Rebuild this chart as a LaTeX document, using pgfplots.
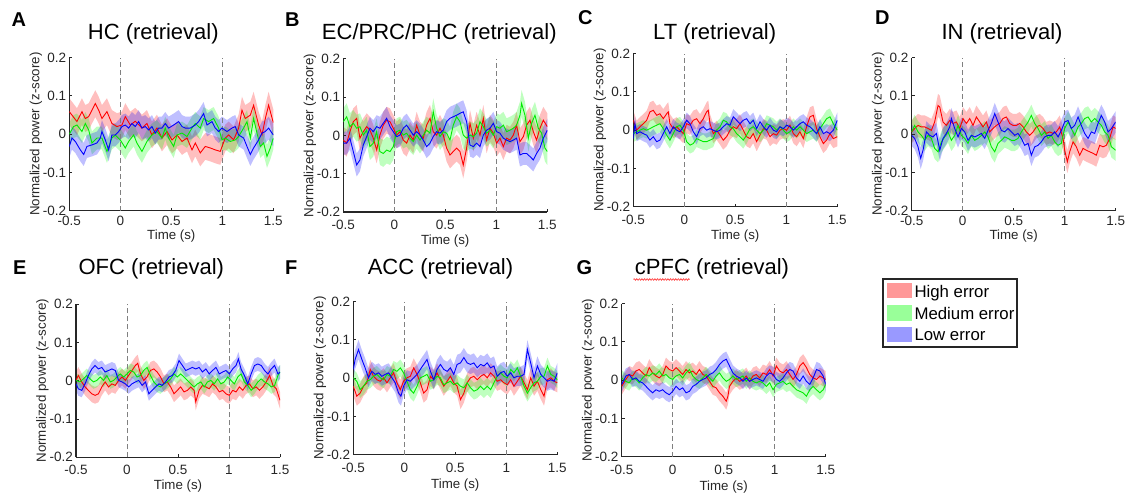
\documentclass[border=0pt]{standalone}
\usepackage{pgfplots}
\pgfplotsset{compat=1.18}
\usepackage{pgfplotstable}
\usetikzlibrary{decorations.pathmorphing}
\usepackage{fontspec}
\setmainfont{Liberation Sans}

\definecolor{axgray}{RGB}{38,38,38}
\definecolor{dashgray}{RGB}{128,128,128}
\definecolor{lr}{RGB}{255,0,0}
\definecolor{lg}{RGB}{0,235,0}
\definecolor{lb}{RGB}{0,0,255}
\definecolor{br}{RGB}{255,0,0}
\definecolor{bg}{RGB}{0,255,0}
\definecolor{bb}{RGB}{0,0,255}

\newcommand\tickfont{\fontsize{13.5pt}{16pt}\selectfont}
\newcommand\labfont{\fontsize{13.3pt}{16pt}\selectfont}
\newcommand\titfont{\fontsize{22pt}{26pt}\selectfont}
\newcommand\letfont{\fontsize{20pt}{24pt}\selectfont\bfseries}
\newcommand\legfont{\fontsize{16.8pt}{20pt}\selectfont}

\pgfplotsset{
  geom/.style={
    scale only axis, width=204pt, height=153pt,
    xmin=-0.5, xmax=1.5, ymin=-0.2, ymax=0.2, clip=true,
  },
  bandax/.style={geom, hide axis},
  panel/.style 2 args={
    geom,
    axis x line*=bottom, axis y line*=left,
    axis line style={line width=1.3pt, color=axgray},
    tick align=inside, major tick length=3pt,
    tick style={line width=1pt, color=axgray},
    xtick={-0.5,0,0.5,1,1.5}, xticklabels={-0.5,0,0.5,1,1.5},
    ytick={-0.2,-0.1,0,0.1,0.2}, yticklabels={-0.2,-0.1,0,0.1,0.2},
    ticklabel style={font=\tickfont, text=axgray},
    yticklabel style={anchor=east, inner sep=0pt, xshift=-3pt},
    xticklabel style={anchor=north, inner sep=0pt, yshift=-#1},
    xlabel={Time (s)}, ylabel={Normalized power (z-score)},
    label style={font=\labfont, text=axgray},
    ylabel style={at={(axis description cs:-0.164,0.5)}, anchor=center},
    xlabel style={at={(axis description cs:0.5,-#2)}, anchor=north, inner sep=0pt},
  },
}

% one shaded band (mean +/- err) in its own hidden axis
\newcommand\bandaxis[4]{%
  \begin{axis}[bandax, at={#1}, anchor=south west]
  \addplot[draw=none, stack plots=y, forget plot] table[x=t, y expr=\thisrow{y}-#4] {#2};
  \addplot[fill=#3, fill opacity=0.25, draw=none, stack plots=y, forget plot] table[x=t, y expr=2*#4] {#2} \closedcycle;
  \end{axis}%
}
\newcommand\curve[2]{\addplot[#2, line width=0.9pt, forget plot] table[x=t, y=y] {#1};}
\newcommand\vlines{%
  \addplot[dashgray, line width=1pt, dash pattern=on 5pt off 3pt, forget plot] coordinates {(0,-0.2) (0,0.2)};
  \addplot[dashgray, line width=1pt, dash pattern=on 5pt off 3pt, forget plot] coordinates {(1,-0.2) (1,0.2)};
}

% ---------------- Panel A (HC) ----------------
\pgfplotstableread{
t y
-0.500 0.059
-0.425 0.033
-0.376 0.059
-0.343 0.041
-0.310 0.046
-0.245 0.080
-0.212 0.063
-0.180 0.041
-0.131 0.059
-0.082 0.028
-0.033 0.020
0.016 0.024
0.049 0.046
0.098 0.024
0.147 0.034
0.212 0.016
0.261 0.028
0.310 -0.002
0.359 0.016
0.408 -0.010
0.458 0.007
0.507 -0.015
0.556 -0.002
0.605 -0.019
0.654 -0.010
0.703 -0.041
0.735 -0.023
0.784 -0.049
0.833 -0.032
0.882 -0.036
0.931 -0.041
0.980 -0.045
1.029 -0.010
1.062 -0.002
1.111 -0.015
1.160 0.016
1.193 0.063
1.225 0.041
1.275 0.050
1.307 0.076
1.356 0.024
1.389 -0.002
1.422 0.041
1.454 0.076
1.500 0.030
}\tAr
\pgfplotstableread{
t y
-0.500 0.000
-0.458 0.020
-0.425 0.024
-0.376 0.007
-0.343 0.028
-0.310 0.011
-0.278 -0.023
-0.229 -0.010
-0.180 -0.010
-0.131 -0.045
-0.082 -0.010
-0.049 -0.002
0.000 -0.015
0.049 -0.036
0.082 -0.019
0.131 -0.002
0.163 -0.023
0.212 -0.045
0.261 -0.019
0.310 -0.002
0.359 0.007
0.408 -0.010
0.441 0.016
0.474 -0.010
0.523 -0.032
0.556 -0.002
0.605 0.003
0.654 -0.006
0.703 0.016
0.735 0.028
0.784 0.016
0.817 0.041
0.866 0.033
0.915 0.041
0.964 0.016
0.997 -0.015
1.029 -0.010
1.078 -0.019
1.127 -0.015
1.160 -0.006
1.209 0.016
1.242 0.033
1.275 -0.010
1.307 0.041
1.340 0.003
1.373 -0.032
1.405 -0.023
1.438 -0.058
1.471 -0.036
1.500 -0.010
}\tAg
\pgfplotstableread{
t y
-0.500 -0.032
-0.474 -0.010
-0.441 -0.019
-0.392 -0.041
-0.359 -0.053
-0.327 -0.032
-0.278 -0.028
-0.229 -0.023
-0.196 -0.010
-0.180 0.007
-0.147 -0.015
-0.114 -0.041
-0.082 -0.002
-0.049 -0.002
-0.016 0.007
0.016 0.020
0.049 0.024
0.082 0.016
0.114 0.028
0.147 0.020
0.180 0.033
0.212 0.016
0.245 0.020
0.278 0.011
0.310 0.020
0.343 0.003
0.376 0.016
0.408 0.016
0.441 0.028
0.474 0.016
0.523 0.024
0.572 0.033
0.605 0.020
0.637 0.016
0.686 0.016
0.735 0.024
0.768 0.033
0.817 0.054
0.850 0.024
0.899 0.033
0.931 0.016
0.964 0.007
0.997 0.016
1.046 0.007
1.095 0.016
1.127 0.020
1.160 -0.002
1.209 -0.010
1.242 -0.032
1.275 -0.053
1.307 -0.036
1.356 -0.015
1.389 0.003
1.422 0.007
1.454 0.016
1.500 -0.002
}\tAb

% ---------------- Panel B (EC/PRC/PHC) ----------------
\pgfplotstableread{
t y
-0.500 -0.012
-0.467 -0.020
-0.435 0.010
-0.402 0.036
-0.369 0.045
-0.337 -0.007
-0.304 0.010
-0.271 0.023
-0.239 0.014
-0.206 -0.007
-0.173 -0.038
-0.141 0.001
-0.108 0.027
-0.075 0.040
-0.042 0.036
-0.010 0.019
0.023 0.001
0.056 0.010
0.088 -0.012
0.121 -0.020
0.154 0.001
0.186 -0.012
0.219 0.027
0.252 0.001
0.284 -0.007
0.317 0.027
0.350 0.045
0.382 0.010
0.415 0.001
0.448 0.019
0.480 0.001
0.513 -0.033
0.546 -0.051
0.578 -0.042
0.611 -0.033
0.644 -0.042
0.676 -0.077
0.709 -0.033
0.742 0.032
0.775 -0.007
0.807 0.027
0.840 0.001
0.873 0.045
0.905 -0.012
0.938 0.019
0.971 0.006
1.003 -0.020
1.036 -0.007
1.069 -0.029
1.101 -0.007
1.134 -0.012
1.167 0.001
1.199 0.027
1.232 -0.016
1.265 -0.003
1.297 0.027
1.330 0.040
1.363 0.010
1.395 -0.012
1.428 0.019
1.461 0.040
1.500 0.023
}\tBr
\pgfplotstableread{
t y
-0.500 0.036
-0.467 0.049
-0.435 0.023
-0.402 0.032
-0.369 0.019
-0.337 0.023
-0.304 0.001
-0.271 0.014
-0.239 -0.029
-0.206 -0.020
-0.173 0.010
-0.141 -0.042
-0.108 -0.047
-0.075 -0.038
-0.042 -0.042
-0.010 -0.029
0.023 0.010
0.056 0.014
0.088 0.001
0.121 0.006
0.154 -0.007
0.186 -0.016
0.219 0.001
0.252 -0.012
0.284 0.001
0.317 0.014
0.350 0.006
0.382 0.062
0.415 0.019
0.448 -0.003
0.480 0.010
0.513 0.006
0.546 -0.012
0.578 0.027
0.611 0.049
0.644 0.036
0.676 0.001
0.709 -0.007
0.742 0.001
0.775 -0.003
0.807 0.006
0.840 0.036
0.873 0.023
0.905 0.006
0.938 0.014
0.971 0.001
1.003 0.023
1.036 0.019
1.069 0.027
1.101 0.010
1.134 0.014
1.167 0.019
1.199 0.027
1.232 0.053
1.248 0.084
1.281 0.053
1.314 -0.007
1.346 0.032
1.379 0.053
1.412 0.019
1.444 0.006
1.477 -0.033
1.500 -0.042
}\tBg
\pgfplotstableread{
t y
-0.500 -0.020
-0.467 -0.020
-0.435 -0.007
-0.402 -0.042
-0.369 -0.077
-0.337 -0.064
-0.304 -0.025
-0.271 -0.003
-0.239 0.019
-0.206 0.010
-0.173 0.023
-0.141 0.019
-0.108 0.032
-0.075 0.045
-0.042 0.023
-0.010 0.010
0.023 -0.003
0.056 0.001
0.088 0.019
0.121 0.027
0.154 0.014
0.186 0.001
0.219 0.010
0.252 0.001
0.284 -0.012
0.317 -0.029
0.350 -0.020
0.382 -0.003
0.415 0.010
0.448 0.006
0.480 0.014
0.513 0.036
0.546 0.045
0.578 0.049
0.611 0.053
0.644 0.058
0.676 0.062
0.709 0.036
0.742 -0.025
0.775 -0.029
0.807 -0.020
0.840 -0.029
0.873 0.001
0.905 0.014
0.938 0.019
0.971 0.032
1.003 0.010
1.036 0.006
1.069 -0.007
1.101 -0.012
1.134 -0.016
1.167 -0.012
1.199 -0.007
1.232 -0.051
1.265 -0.047
1.297 -0.047
1.330 -0.055
1.363 -0.064
1.395 -0.047
1.428 -0.033
1.461 -0.007
1.500 0.014
}\tBb

% ---------------- Panel C (LT) ----------------
\pgfplotstableread{
t y
-0.500 0.026
-0.467 0.000
-0.435 0.009
-0.402 0.017
-0.369 0.026
-0.337 0.048
-0.304 0.052
-0.271 0.039
-0.239 0.043
-0.206 0.030
-0.173 0.043
-0.157 0.048
-0.141 0.017
-0.108 0.004
-0.075 0.009
-0.042 0.000
-0.010 -0.009
0.023 0.017
0.056 0.013
0.088 0.026
0.121 0.030
0.154 0.017
0.186 0.030
0.219 0.048
0.235 0.052
0.252 0.017
0.284 -0.009
0.317 0.000
0.350 -0.013
0.382 -0.026
0.415 -0.017
0.448 0.000
0.480 0.009
0.513 0.004
0.546 0.017
0.578 0.000
0.611 -0.017
0.644 -0.022
0.676 -0.009
0.709 -0.030
0.742 -0.013
0.775 0.004
0.807 0.000
0.840 -0.017
0.873 -0.009
0.905 -0.013
0.938 0.000
0.971 0.004
1.003 0.000
1.036 0.013
1.069 -0.009
1.101 -0.017
1.134 -0.004
1.167 -0.022
1.199 0.009
1.232 0.035
1.265 0.039
1.297 0.004
1.330 -0.017
1.363 -0.035
1.395 -0.026
1.428 -0.009
1.461 -0.022
1.500 -0.017
}\tCr
\pgfplotstableread{
t y
-0.500 -0.009
-0.467 -0.004
-0.435 0.000
-0.402 0.004
-0.369 0.000
-0.337 0.004
-0.304 0.009
-0.271 0.013
-0.239 0.017
-0.206 0.004
-0.173 -0.013
-0.141 -0.026
-0.108 -0.009
-0.075 0.009
-0.042 0.013
-0.010 0.000
0.023 -0.030
0.056 -0.039
0.088 -0.035
0.121 -0.022
0.154 -0.026
0.186 -0.030
0.219 -0.030
0.252 -0.026
0.284 -0.022
0.317 0.000
0.350 0.009
0.382 0.026
0.415 0.022
0.448 0.009
0.480 0.004
0.513 -0.009
0.546 -0.017
0.578 -0.026
0.611 -0.013
0.644 0.004
0.676 0.009
0.709 0.000
0.742 -0.009
0.775 0.000
0.807 0.017
0.840 0.013
0.873 0.009
0.905 0.000
0.938 0.009
0.971 0.000
1.003 -0.009
1.036 -0.004
1.069 0.009
1.101 0.000
1.134 0.009
1.167 0.000
1.199 -0.009
1.232 -0.004
1.265 0.000
1.297 -0.009
1.330 0.004
1.363 0.017
1.395 0.030
1.428 0.035
1.461 0.017
1.500 0.000
}\tCg
\pgfplotstableread{
t y
-0.500 -0.022
-0.484 0.017
-0.467 -0.009
-0.435 -0.004
-0.402 -0.009
-0.369 -0.013
-0.337 -0.026
-0.304 -0.017
-0.271 -0.030
-0.239 -0.026
-0.206 -0.009
-0.173 0.009
-0.141 -0.009
-0.108 0.009
-0.075 0.000
-0.042 -0.004
-0.010 0.009
0.023 0.026
0.056 0.017
0.088 -0.004
0.121 -0.017
0.154 0.004
0.186 0.009
0.219 0.000
0.252 0.004
0.284 0.000
0.317 -0.004
0.350 0.000
0.382 0.009
0.415 0.017
0.448 0.013
0.480 0.035
0.513 0.026
0.546 0.017
0.578 0.026
0.611 0.030
0.644 0.017
0.676 0.026
0.709 0.004
0.742 0.022
0.775 0.009
0.807 0.000
0.840 0.013
0.873 0.000
0.905 -0.004
0.938 0.009
0.971 0.004
1.003 0.013
1.036 0.009
1.069 0.000
1.101 0.009
1.134 0.017
1.167 0.022
1.199 0.013
1.232 0.009
1.265 0.000
1.297 -0.009
1.330 0.009
1.363 -0.009
1.395 -0.004
1.428 -0.009
1.461 0.000
1.500 0.026
}\tCb

% ---------------- Panel D (IN) ----------------
\pgfplotstableread{
t y
-0.500 0.006
-0.471 0.015
-0.438 0.023
-0.405 0.019
-0.373 0.019
-0.340 0.015
-0.307 0.010
-0.275 0.032
-0.242 0.075
-0.225 0.071
-0.193 0.032
-0.160 0.023
-0.127 0.036
-0.095 0.028
-0.062 0.032
-0.029 0.015
0.003 0.041
0.036 0.028
0.069 0.041
0.101 0.023
0.134 0.045
0.167 0.032
0.199 0.019
0.232 0.032
0.265 0.006
0.297 0.015
0.330 0.023
0.363 0.028
0.395 0.041
0.428 0.045
0.461 0.028
0.493 0.023
0.526 0.023
0.559 0.028
0.592 0.019
0.624 0.006
0.657 -0.003
0.690 0.006
0.722 0.019
0.755 0.023
0.788 0.015
0.820 0.002
0.853 0.006
0.886 0.002
0.918 0.006
0.951 0.019
0.984 -0.011
1.000 -0.042
1.026 -0.072
1.049 -0.046
1.082 -0.020
1.114 -0.033
1.147 -0.055
1.180 -0.037
1.212 -0.042
1.245 -0.046
1.278 -0.050
1.310 -0.055
1.343 -0.029
1.376 -0.033
1.408 -0.029
1.441 -0.011
1.474 0.019
1.500 0.015
}\tDr
\pgfplotstableread{
t y
-0.500 0.006
-0.471 0.023
-0.438 0.006
-0.405 -0.003
-0.373 -0.016
-0.340 -0.003
-0.307 -0.011
-0.275 -0.037
-0.242 -0.046
-0.209 -0.020
-0.176 -0.007
-0.144 0.006
-0.111 -0.016
-0.078 -0.003
-0.046 0.023
-0.013 -0.003
0.020 -0.011
0.052 -0.024
0.085 -0.003
0.118 -0.016
0.150 -0.011
0.183 -0.003
0.216 0.006
0.248 -0.007
0.281 -0.033
0.314 -0.046
0.346 -0.024
0.379 -0.016
0.412 -0.007
0.444 -0.011
0.477 -0.016
0.510 -0.016
0.542 -0.011
0.575 0.006
0.608 0.019
0.641 0.032
0.673 0.049
0.706 0.028
0.739 0.015
0.771 -0.003
0.804 0.006
0.837 -0.011
0.869 -0.003
0.902 -0.020
0.935 -0.029
0.967 -0.024
1.000 0.015
1.033 0.032
1.065 0.015
1.098 -0.003
1.131 0.019
1.163 0.028
1.196 0.041
1.229 0.045
1.261 0.032
1.294 0.041
1.327 0.032
1.359 0.023
1.392 0.006
1.425 -0.003
1.458 -0.033
1.500 -0.042
}\tDg
\pgfplotstableread{
t y
-0.500 -0.003
-0.471 -0.011
-0.438 -0.033
-0.412 -0.063
-0.389 -0.042
-0.356 0.006
-0.324 -0.003
-0.291 -0.007
-0.258 0.002
-0.225 -0.042
-0.193 -0.011
-0.160 0.002
-0.127 0.019
-0.111 0.041
-0.078 0.015
-0.046 -0.007
-0.013 0.015
0.020 0.006
0.052 -0.016
0.085 -0.003
0.118 -0.007
0.150 -0.003
0.183 0.002
0.216 -0.011
0.248 0.010
0.281 0.028
0.314 0.054
0.346 0.032
0.379 0.010
0.412 0.006
0.444 0.015
0.477 0.006
0.510 -0.003
0.542 0.002
0.575 -0.011
0.608 -0.029
0.641 -0.024
0.673 -0.055
0.706 -0.033
0.739 -0.029
0.771 -0.020
0.804 -0.007
0.837 -0.003
0.869 -0.003
0.902 0.006
0.935 -0.007
0.967 0.010
1.000 0.032
1.033 0.036
1.065 0.015
1.098 0.023
1.131 0.045
1.163 0.023
1.196 0.002
1.229 -0.011
1.261 0.006
1.294 0.002
1.327 0.028
1.359 0.049
1.392 0.032
1.425 0.006
1.458 0.015
1.500 0.032
}\tDb

% ---------------- Panel E (OFC) ----------------
\pgfplotstableread{
t y
-0.500 0.001
-0.477 0.014
-0.444 -0.003
-0.411 -0.016
-0.378 -0.025
-0.345 -0.034
-0.313 -0.038
-0.280 -0.034
-0.247 -0.016
-0.214 -0.003
-0.181 -0.016
-0.148 -0.008
-0.115 -0.012
-0.082 0.001
-0.049 0.010
-0.016 0.001
0.016 0.014
0.049 0.027
0.082 0.040
0.105 0.046
0.132 0.018
0.164 0.001
0.197 0.010
0.230 0.027
0.263 0.031
0.296 0.023
0.329 0.010
0.362 -0.008
0.395 -0.003
0.428 -0.016
0.461 -0.034
0.493 -0.025
0.526 -0.016
0.559 -0.029
0.592 -0.025
0.625 -0.016
0.658 -0.025
0.674 -0.055
0.707 -0.025
0.740 -0.012
0.773 -0.016
0.806 -0.021
0.839 -0.008
0.872 -0.016
0.905 -0.029
0.938 -0.025
0.970 -0.034
1.003 -0.038
1.036 -0.025
1.069 -0.029
1.102 -0.016
1.135 -0.025
1.168 -0.012
1.201 -0.008
1.234 -0.021
1.266 -0.016
1.299 -0.025
1.332 -0.016
1.365 -0.003
1.398 0.014
1.431 -0.012
1.464 -0.021
1.500 -0.051
}\tEr
\pgfplotstableread{
t y
-0.500 0.001
-0.461 -0.003
-0.428 0.005
-0.395 0.014
-0.362 0.005
-0.329 -0.003
-0.296 0.001
-0.263 0.010
-0.230 0.001
-0.197 0.014
-0.164 -0.003
-0.132 0.001
-0.099 0.010
-0.066 0.018
-0.033 0.010
0.000 0.018
0.033 0.027
0.066 0.023
0.099 0.010
0.132 0.014
0.164 0.027
0.197 0.035
0.230 0.014
0.263 -0.003
0.296 -0.012
0.329 -0.016
0.362 -0.008
0.395 -0.003
0.428 0.005
0.461 0.018
0.493 0.010
0.526 0.018
0.559 0.010
0.592 0.001
0.625 -0.008
0.658 -0.016
0.691 -0.008
0.724 -0.003
0.757 -0.016
0.789 -0.003
0.822 0.001
0.855 -0.008
0.888 0.005
0.921 -0.008
0.954 -0.003
0.987 0.010
1.020 0.001
1.053 -0.008
1.086 0.010
1.118 0.018
1.151 -0.003
1.184 -0.012
1.217 -0.025
1.250 -0.016
1.283 -0.003
1.316 0.005
1.349 -0.003
1.382 -0.008
1.414 -0.016
1.447 -0.012
1.480 0.014
1.500 0.023
}\tEg
\pgfplotstableread{
t y
-0.500 -0.008
-0.477 -0.021
-0.444 -0.025
-0.411 -0.008
-0.378 0.014
-0.345 0.031
-0.313 0.040
-0.280 0.031
-0.247 0.035
-0.214 0.023
-0.181 0.027
-0.148 0.031
-0.115 0.027
-0.082 0.001
-0.049 -0.003
-0.016 -0.008
0.016 -0.016
0.049 -0.008
0.082 -0.003
0.115 0.001
0.148 -0.012
0.181 -0.003
0.214 -0.034
0.247 -0.025
0.280 -0.016
0.313 -0.008
0.345 -0.012
0.378 -0.003
0.411 0.010
0.444 0.014
0.477 0.027
0.510 0.053
0.543 0.040
0.576 0.027
0.609 0.031
0.641 0.035
0.674 0.031
0.707 0.035
0.740 0.023
0.773 0.031
0.806 0.018
0.839 0.027
0.872 0.035
0.905 0.018
0.938 0.023
0.970 0.027
1.003 0.018
1.036 0.031
1.069 0.040
1.092 0.057
1.118 0.031
1.151 0.014
1.184 -0.008
1.217 0.018
1.250 0.040
1.283 0.044
1.316 0.040
1.349 0.027
1.382 0.018
1.414 0.031
1.447 0.040
1.480 0.018
1.500 0.023
}\tEb

% ---------------- Panel F (ACC) ----------------
\pgfplotstableread{
t y
-0.500 -0.021
-0.466 -0.047
-0.433 -0.039
-0.400 -0.021
-0.367 -0.012
-0.334 0.023
-0.302 0.005
-0.269 -0.004
-0.236 -0.008
-0.203 0.001
-0.170 -0.012
-0.138 0.001
-0.105 0.014
-0.072 -0.012
-0.039 -0.030
-0.007 -0.008
0.026 0.001
0.059 0.005
0.092 0.027
0.125 0.010
0.157 -0.012
0.190 -0.039
0.223 -0.030
0.256 0.005
0.289 -0.004
0.321 0.014
0.354 -0.004
0.387 -0.021
0.420 -0.008
0.452 0.005
0.485 -0.012
0.518 -0.021
0.551 -0.056
0.584 -0.039
0.616 -0.012
0.649 0.001
0.682 0.005
0.715 -0.004
0.748 0.005
0.780 0.010
0.813 0.001
0.846 0.014
0.879 0.005
0.911 -0.008
0.944 -0.004
0.977 -0.012
1.010 -0.017
1.043 -0.004
1.075 -0.021
1.108 -0.008
1.141 0.005
1.174 -0.012
1.207 -0.030
1.239 0.001
1.272 -0.021
1.305 -0.008
1.338 -0.030
1.370 -0.047
1.403 -0.004
1.436 0.001
1.469 -0.008
1.500 -0.012
}\tFr
\pgfplotstableread{
t y
-0.500 0.001
-0.466 -0.008
-0.433 -0.030
-0.400 -0.021
-0.367 -0.008
-0.334 -0.004
-0.302 0.005
-0.269 0.010
-0.236 0.001
-0.203 -0.004
-0.170 0.010
-0.138 0.005
-0.105 0.023
-0.072 0.018
-0.039 0.027
-0.007 0.014
0.026 -0.008
0.059 -0.030
0.092 -0.039
0.125 -0.021
0.157 0.001
0.190 0.005
0.223 0.010
0.256 -0.008
0.289 -0.004
0.321 0.005
0.354 0.001
0.387 -0.017
0.420 -0.012
0.452 -0.008
0.485 -0.017
0.518 -0.012
0.551 -0.021
0.584 -0.025
0.616 -0.012
0.649 -0.025
0.682 -0.034
0.715 -0.030
0.748 -0.021
0.780 -0.030
0.813 -0.021
0.846 -0.030
0.879 -0.012
0.911 0.005
0.944 0.014
0.977 0.005
1.010 0.001
1.043 0.023
1.075 0.014
1.108 0.027
1.141 0.005
1.174 -0.021
1.207 -0.039
1.239 -0.025
1.272 -0.012
1.305 -0.008
1.338 0.005
1.370 0.005
1.403 0.032
1.436 0.010
1.469 0.005
1.500 -0.004
}\tFg
\pgfplotstableread{
t y
-0.500 0.023
-0.482 0.049
-0.449 0.075
-0.416 0.049
-0.384 0.027
-0.351 0.001
-0.318 0.018
-0.285 0.010
-0.252 0.014
-0.220 0.005
-0.187 0.010
-0.154 0.014
-0.121 0.001
-0.089 -0.012
-0.056 -0.039
-0.033 -0.047
-0.007 -0.021
0.026 -0.004
0.059 -0.008
0.092 0.001
0.125 0.010
0.157 0.023
0.190 0.036
0.223 0.049
0.256 0.018
0.289 -0.004
0.321 0.023
0.354 0.036
0.387 0.023
0.420 0.018
0.452 0.027
0.485 0.010
0.518 0.036
0.551 0.040
0.584 0.054
0.616 0.040
0.649 0.036
0.682 0.040
0.715 0.027
0.748 0.036
0.780 0.032
0.813 0.040
0.846 0.027
0.879 0.032
0.911 0.005
0.944 0.014
0.977 0.018
1.010 0.005
1.043 0.014
1.075 0.001
1.108 0.005
1.141 0.005
1.174 0.010
1.207 0.075
1.239 0.040
1.272 0.001
1.305 0.032
1.338 0.010
1.370 0.001
1.403 -0.008
1.436 -0.004
1.469 -0.008
1.500 0.014
}\tFb

% ---------------- Panel G (cPFC) ----------------
\pgfplotstableread{
t y
-0.500 -0.016
-0.459 0.002
-0.426 0.015
-0.393 0.011
-0.361 0.024
-0.328 0.028
-0.295 0.019
-0.262 0.011
-0.230 0.033
-0.197 0.019
-0.164 0.011
-0.131 0.006
-0.098 0.015
-0.066 0.037
-0.033 0.028
0.000 0.024
0.033 0.033
0.066 0.024
0.098 0.015
0.131 0.028
0.164 0.019
0.197 0.024
0.230 0.015
0.262 0.028
0.295 0.015
0.328 0.011
0.361 -0.003
0.393 -0.016
0.426 -0.020
0.459 -0.033
0.492 -0.042
0.525 -0.055
0.541 -0.042
0.557 -0.016
0.590 -0.003
0.623 0.006
0.656 -0.003
0.689 0.002
0.721 0.011
0.754 -0.003
0.787 0.011
0.820 0.015
0.852 0.006
0.885 0.019
0.918 0.015
0.951 0.028
0.984 0.011
1.016 0.037
1.049 0.024
1.082 0.019
1.115 0.028
1.148 0.015
1.180 0.002
1.213 0.015
1.246 0.037
1.279 0.046
1.311 0.033
1.344 0.015
1.377 0.006
1.410 0.002
1.443 0.011
1.475 0.006
1.500 0.002
}\tGr
\pgfplotstableread{
t y
-0.500 0.006
-0.459 -0.003
-0.426 -0.007
-0.393 0.006
-0.361 0.002
-0.328 -0.007
-0.295 0.006
-0.262 0.015
-0.230 0.011
-0.197 0.019
-0.164 0.015
-0.131 0.024
-0.098 0.011
-0.066 0.015
-0.033 0.006
0.000 0.002
0.033 0.011
0.066 0.015
0.098 0.006
0.131 0.019
0.164 0.028
0.197 0.011
0.230 0.002
0.262 -0.003
0.295 0.006
0.328 0.015
0.361 0.006
0.393 -0.003
0.426 0.011
0.459 0.019
0.492 0.006
0.525 -0.003
0.557 0.002
0.590 0.011
0.623 0.002
0.656 0.006
0.689 0.011
0.721 -0.003
0.754 0.006
0.787 -0.003
0.820 -0.007
0.852 -0.003
0.885 -0.007
0.918 -0.016
0.951 -0.007
0.984 -0.025
1.016 -0.011
1.049 -0.007
1.082 -0.003
1.115 -0.011
1.148 -0.007
1.180 -0.016
1.213 -0.025
1.246 -0.029
1.279 -0.033
1.311 -0.042
1.344 -0.025
1.377 -0.016
1.410 -0.025
1.443 -0.033
1.475 -0.025
1.500 -0.011
}\tGg
\pgfplotstableread{
t y
-0.500 -0.011
-0.459 0.011
-0.426 0.015
-0.393 0.002
-0.361 0.006
-0.328 -0.003
-0.295 -0.007
-0.262 -0.016
-0.230 -0.025
-0.197 -0.033
-0.164 -0.025
-0.131 -0.029
-0.098 -0.025
-0.066 -0.033
-0.033 -0.038
0.000 -0.029
0.033 -0.016
0.066 -0.025
0.098 -0.020
0.131 -0.033
0.164 -0.029
0.197 -0.016
0.230 -0.011
0.262 -0.003
0.295 0.002
0.328 0.006
0.361 0.015
0.393 0.019
0.426 0.028
0.459 0.041
0.492 0.050
0.525 0.055
0.557 0.037
0.590 0.019
0.623 0.011
0.656 0.006
0.689 -0.003
0.721 0.006
0.754 -0.003
0.787 0.002
0.820 0.006
0.852 0.002
0.885 -0.003
0.918 0.011
0.951 0.019
0.984 0.015
1.016 0.002
1.049 -0.003
1.082 0.006
1.115 0.019
1.148 0.028
1.180 0.024
1.213 0.006
1.246 -0.003
1.279 0.011
1.311 -0.003
1.344 -0.011
1.377 0.006
1.410 0.028
1.443 0.024
1.475 0.011
1.500 -0.011
}\tGb

\begin{document}
\begin{tikzpicture}
\useasboundingbox (0pt,0pt) rectangle (1128pt,498pt);

% A
\bandaxis{(69.3pt,287.3pt)}{\tAr}{br}{0.035}
\bandaxis{(69.3pt,287.3pt)}{\tAg}{bg}{0.03}
\bandaxis{(69.3pt,287.3pt)}{\tAb}{bb}{0.03}
\begin{axis}[panel={5pt}{0.122}, at={(69.3pt,287.3pt)}, anchor=south west]
\vlines
\curve{\tAr}{lr}\curve{\tAg}{lg}\curve{\tAb}{lb}
\end{axis}
% B
\bandaxis{(343.3pt,286pt)}{\tBr}{br}{0.035}
\bandaxis{(343.3pt,286pt)}{\tBg}{bg}{0.035}
\bandaxis{(343.3pt,286pt)}{\tBb}{bb}{0.03}
\begin{axis}[panel={8pt}{0.151}, at={(343.3pt,286pt)}, anchor=south west]
\vlines
\curve{\tBr}{lr}\curve{\tBg}{lg}\curve{\tBb}{lb}
\end{axis}
% C
\bandaxis{(633.3pt,291.3pt)}{\tCr}{br}{0.025}
\bandaxis{(633.3pt,291.3pt)}{\tCg}{bg}{0.022}
\bandaxis{(633.3pt,291.3pt)}{\tCb}{bb}{0.02}
\begin{axis}[panel={8pt}{0.152}, at={(633.3pt,291.3pt)}, anchor=south west]
\vlines
\curve{\tCr}{lr}\curve{\tCg}{lg}\curve{\tCb}{lb}
\end{axis}
% D
\bandaxis{(911.7pt,287.3pt)}{\tDr}{br}{0.03}
\bandaxis{(911.7pt,287.3pt)}{\tDg}{bg}{0.028}
\bandaxis{(911.7pt,287.3pt)}{\tDb}{bb}{0.028}
\begin{axis}[panel={5pt}{0.122}, at={(911.7pt,287.3pt)}, anchor=south west]
\vlines
\curve{\tDr}{lr}\curve{\tDg}{lg}\curve{\tDb}{lb}
\end{axis}
% E
\bandaxis{(76pt,40.7pt)}{\tEr}{br}{0.022}
\bandaxis{(76pt,40.7pt)}{\tEg}{bg}{0.018}
\bandaxis{(76pt,40.7pt)}{\tEb}{bb}{0.018}
\begin{axis}[panel={8pt}{0.147}, at={(76pt,40.7pt)}, anchor=south west]
\vlines
\curve{\tEr}{lr}\curve{\tEg}{lg}\curve{\tEb}{lb}
\end{axis}
% F
\bandaxis{(353.3pt,43.3pt)}{\tFr}{br}{0.025}
\bandaxis{(353.3pt,43.3pt)}{\tFg}{bg}{0.022}
\bandaxis{(353.3pt,43.3pt)}{\tFb}{bb}{0.025}
\begin{axis}[panel={8pt}{0.155}, at={(353.3pt,43.3pt)}, anchor=south west]
\vlines
\curve{\tFr}{lr}\curve{\tFg}{lg}\curve{\tFb}{lb}
\end{axis}
% G
\bandaxis{(621.7pt,41.3pt)}{\tGr}{br}{0.022}
\bandaxis{(621.7pt,41.3pt)}{\tGg}{bg}{0.02}
\bandaxis{(621.7pt,41.3pt)}{\tGb}{bb}{0.02}
\begin{axis}[panel={8pt}{0.154}, at={(621.7pt,41.3pt)}, anchor=south west]
\vlines
\curve{\tGr}{lr}\curve{\tGg}{lg}\curve{\tGb}{lb}
\end{axis}

% titles
\node[anchor=base, font=\titfont] at (153.3pt,458.5pt) {HC (retrieval)};
\node[anchor=base, font=\titfont] at (439.3pt,458.5pt) {EC/PRC/PHC (retrieval)};
\node[anchor=base, font=\titfont] at (714.7pt,458.5pt) {LT (retrieval)};
\node[anchor=base, font=\titfont] at (1002pt,458.5pt) {IN (retrieval)};
\node[anchor=base, font=\titfont] at (151.3pt,223pt) {OFC (retrieval)};
\node[anchor=base, font=\titfont] at (440.5pt,223pt) {ACC (retrieval)};
\node[anchor=base, font=\titfont] at (712pt,223pt) {cPFC (retrieval)};
\draw[red!75, line width=0.7pt, decorate, decoration={zigzag, amplitude=0.8pt, segment length=2.6pt}] (633.5pt,218.5pt) -- (689.5pt,218.5pt);

% panel letters
\node[anchor=base west, font=\letfont, inner sep=0pt] at (11.5pt,471.3pt) {A};
\node[anchor=base west, font=\letfont, inner sep=0pt] at (285pt,471.3pt) {B};
\node[anchor=base west, font=\letfont, inner sep=0pt] at (578pt,473pt) {C};
\node[anchor=base west, font=\letfont, inner sep=0pt] at (875pt,473pt) {D};
\node[anchor=base west, font=\letfont, inner sep=0pt] at (13pt,223pt) {E};
\node[anchor=base west, font=\letfont, inner sep=0pt] at (285pt,223pt) {F};
\node[anchor=base west, font=\letfont, inner sep=0pt] at (576.5pt,223pt) {G};

% legend
\draw[line width=1.6pt, black!85] (883pt,219pt) rectangle (1017pt,151pt);
\fill[red!40] (886.7pt,214.7pt) rectangle (912.3pt,199.7pt);
\fill[green!40] (886.7pt,193pt) rectangle (912.3pt,177.3pt);
\fill[blue!40] (886.7pt,171.3pt) rectangle (912.3pt,156.3pt);
\node[anchor=base west, font=\legfont, inner sep=0pt] at (914.3pt,200.7pt) {High error};
\node[anchor=base west, font=\legfont, inner sep=0pt] at (914.3pt,178.7pt) {Medium error};
\node[anchor=base west, font=\legfont, inner sep=0pt] at (914.3pt,157pt) {Low error};
\end{tikzpicture}
\end{document}
